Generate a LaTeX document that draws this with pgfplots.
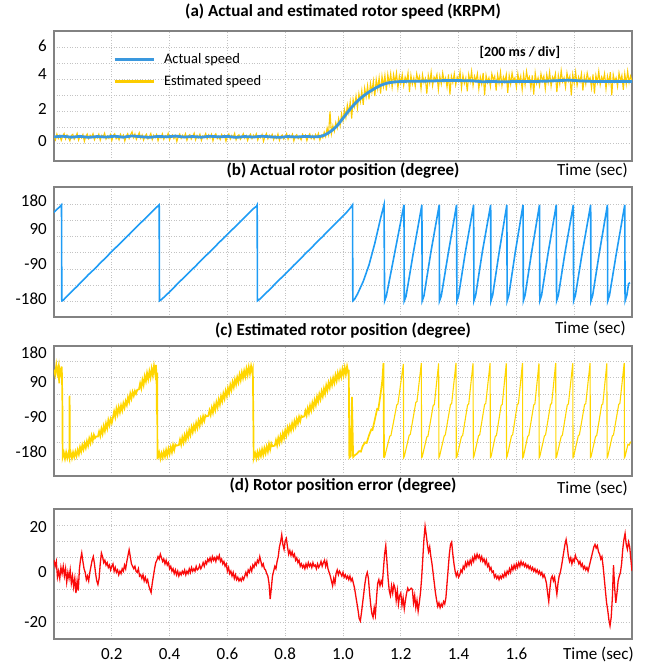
\documentclass[border=0pt]{standalone}
\usepackage{fontspec}
\setmainfont{Carlito}
\usepackage{pgfplots}
\pgfplotsset{compat=1.18}
\definecolor{framec}{RGB}{130,130,130}
\definecolor{gridc}{RGB}{195,195,195}
\definecolor{spdblue}{RGB}{58,152,222}
\definecolor{posblue}{RGB}{30,156,245}
\definecolor{spdyel}{RGB}{252,204,0}
\definecolor{posyel}{RGB}{255,214,0}
\definecolor{errred}{RGB}{250,10,10}
\newcommand{\tickfont}{\fontsize{17}{20}\selectfont}
\pgfplotsset{
 panel/.style={
  scale only axis, width=578pt, height=130pt,
  xmin=0, xmax=2,
  axis line style={draw=framec, line width=1.8pt},
  xtick={0.2,0.4,0.6,0.8,1.0,1.2,1.4,1.6,1.8},
  xticklabels={},
  xmajorgrids=true, yminorgrids=true, ymajorgrids=false,
  major grid style={gridc, line width=0.9pt, dash pattern=on 1pt off 1.6pt},
  minor grid style={gridc, line width=0.9pt, dash pattern=on 1pt off 1.6pt},
  major tick length=0pt, minor tick length=0pt,
  yticklabel style={anchor=east, inner sep=0pt, xshift=-7pt, font=\tickfont},
  xticklabel style={anchor=base, inner sep=0pt, yshift=-20.5pt, font=\tickfont},
  title style={at={(0.5,1)}, anchor=base, font=\bfseries\tickfont},
  clip mode=individual,
 }
}
\begin{document}
\begin{tikzpicture}
\useasboundingbox (0,0) rectangle (647pt,664pt);
% ---------------- (a) speed
\begin{axis}[panel, at={(54pt,503.3pt)}, anchor=south west,
  ymin=-1.09, ymax=7.04,
  ytick={0.16,2.14,4.3,6.08}, yticklabels={0,2,4,6},
  minor ytick={0,1,2,3,4,5,6},
  title={(a) Actual and estimated rotor speed (KRPM)},
  title style={yshift=8pt},
  legend style={at={(rel axis cs:0.102,0.84)}, anchor=north west, draw=none, fill=none,
    inner sep=0pt, row sep=6pt, font=\fontsize{14.5}{16}\selectfont},
  legend cell align=left,
  legend image code/.code={\draw[#1, line width=3pt] (0pt,0pt) -- (39pt,0pt); \path (46pt,0pt);},
]
\addplot[spdyel, line width=1.1pt, forget plot] coordinates {
(0.000,0.45)(0.005,0.22)(0.010,0.58)(0.015,0.30)(0.020,0.50)(0.025,0.18)(0.030,0.44)(0.035,0.61)(0.040,0.27)(0.045,0.52)
(0.050,0.35)(0.055,0.15)(0.060,0.48)(0.065,0.56)(0.070,0.25)(0.075,0.40)(0.080,0.62)(0.085,0.20)(0.090,0.47)(0.095,0.33)
(0.100,0.55)(0.105,0.12)(0.110,0.43)(0.115,0.58)(0.120,0.29)(0.125,0.50)(0.130,0.38)(0.135,0.60)(0.140,0.22)(0.145,0.46)
(0.150,0.34)(0.155,0.57)(0.160,0.19)(0.165,0.49)(0.170,0.40)(0.175,0.63)(0.180,0.26)(0.185,0.45)(0.190,0.31)(0.195,0.54)
(0.200,0.17)(0.205,0.48)(0.210,0.59)(0.215,0.28)(0.220,0.42)(0.225,0.21)(0.230,0.56)(0.235,0.36)(0.240,0.51)(0.245,0.14)
(0.250,0.44)(0.255,0.60)(0.260,0.30)(0.265,0.53)(0.270,0.72)(0.275,0.35)(0.280,0.58)(0.285,0.24)(0.290,0.47)(0.295,0.66)
(0.300,0.32)(0.305,0.52)(0.310,0.20)(0.315,0.45)(0.320,0.57)(0.325,0.27)(0.330,0.41)(0.335,0.61)(0.340,0.23)(0.345,0.50)
(0.350,0.36)(0.355,0.55)(0.360,0.16)(0.365,0.46)(0.370,0.33)(0.375,0.59)(0.380,0.25)(0.385,0.48)(0.390,0.39)(0.395,0.62)
(0.400,0.21)(0.405,0.44)(0.410,0.53)(0.415,0.29)(0.420,0.47)(0.425,0.11)(0.430,0.42)(0.435,0.58)(0.440,0.31)(0.445,0.50)
(0.450,0.37)(0.455,0.60)(0.460,0.19)(0.465,0.45)(0.470,0.54)(0.475,0.26)(0.480,0.43)(0.485,0.63)(0.490,0.22)(0.495,0.49)
(0.500,0.35)(0.505,0.57)(0.510,0.18)(0.515,0.46)(0.520,0.40)(0.525,0.61)(0.530,0.28)(0.535,0.52)(0.540,0.33)(0.545,0.56)
(0.550,0.15)(0.555,0.47)(0.560,0.59)(0.565,0.30)(0.570,0.44)(0.575,0.23)(0.580,0.55)(0.585,0.38)(0.590,0.50)(0.595,0.13)
(0.600,0.42)(0.605,0.58)(0.610,0.27)(0.615,0.49)(0.620,0.36)(0.625,0.62)(0.630,0.21)(0.635,0.46)(0.640,0.53)(0.645,0.25)
(0.650,0.41)(0.655,0.60)(0.660,0.32)(0.665,0.48)(0.670,0.17)(0.675,0.44)(0.680,0.57)(0.685,0.29)(0.690,0.51)(0.695,0.38)
(0.700,0.59)(0.705,0.20)(0.710,0.45)(0.715,0.34)(0.720,0.55)(0.725,0.12)(0.730,0.43)(0.735,0.61)(0.740,0.28)(0.745,0.50)
(0.750,0.37)(0.755,0.56)(0.760,0.22)(0.765,0.47)(0.770,0.31)(0.775,0.58)(0.780,0.18)(0.785,0.44)(0.790,0.52)(0.795,0.26)
(0.800,0.40)(0.805,0.60)(0.810,0.24)(0.815,0.49)(0.820,0.35)(0.825,0.57)(0.830,0.14)(0.835,0.45)(0.840,0.54)(0.845,0.29)
(0.850,0.42)(0.855,0.21)(0.860,0.56)(0.865,0.39)(0.870,0.51)(0.875,0.16)(0.880,0.44)(0.885,0.59)(0.890,0.30)(0.895,0.48)
(0.900,0.25)(0.905,0.55)(0.910,0.38)(0.915,0.62)(0.920,0.20)(0.925,0.50)(0.930,0.35)(0.935,0.70)(0.940,0.42)(0.945,0.95)
(0.950,0.55)(0.955,2.00)(0.960,0.60)(0.965,1.10)(0.970,0.75)(0.975,1.30)(0.980,0.95)(0.985,1.55)(0.990,1.10)(0.995,1.85)
(1.000,1.40)(1.005,2.10)(1.010,1.60)(1.015,2.40)(1.020,1.90)(1.025,2.60)(1.030,1.55)(1.035,2.75)(1.040,2.30)(1.045,2.95)
(1.050,2.20)(1.055,3.10)(1.060,2.60)(1.065,3.30)(1.070,2.40)(1.075,3.45)(1.080,2.90)(1.085,3.60)(1.090,2.75)(1.095,3.75)
(1.100,3.20)(1.105,3.90)(1.110,2.95)(1.115,4.00)(1.120,3.40)(1.125,4.10)(1.130,3.10)(1.135,4.20)(1.140,3.55)(1.145,4.25)
(1.150,3.30)(1.155,4.30)(1.160,3.70)(1.165,4.35)(1.170,3.50)(1.175,4.30)(1.180,3.80)(1.185,4.40)(1.190,3.45)(1.195,4.20)
(1.200,3.75)(1.205,4.30)(1.210,3.60)(1.215,4.15)(1.220,3.85)(1.225,4.40)(1.230,3.20)(1.235,4.25)(1.240,3.70)(1.245,4.10)
(1.250,3.55)(1.255,4.35)(1.260,3.90)(1.265,4.20)(1.270,3.40)(1.275,4.30)(1.280,3.80)(1.285,4.05)(1.290,3.10)(1.295,4.25)
(1.300,3.75)(1.305,4.45)(1.310,3.60)(1.315,4.15)(1.320,3.95)(1.325,4.30)(1.330,3.35)(1.335,4.20)(1.340,3.70)(1.345,4.40)
(1.350,3.85)(1.355,4.10)(1.360,3.50)(1.365,4.30)(1.370,3.05)(1.375,4.20)(1.380,3.80)(1.385,4.35)(1.390,3.65)(1.395,4.15)
(1.400,3.90)(1.405,4.45)(1.410,3.45)(1.415,4.25)(1.420,3.75)(1.425,4.10)(1.430,3.25)(1.435,4.30)(1.440,3.85)(1.445,4.50)
(1.450,3.60)(1.455,4.20)(1.460,3.90)(1.465,4.35)(1.470,3.40)(1.475,4.15)(1.480,3.70)(1.485,4.40)(1.490,3.00)(1.495,4.25)
(1.500,3.80)(1.505,4.10)(1.510,3.55)(1.515,4.35)(1.520,3.95)(1.525,4.20)(1.530,3.30)(1.535,4.30)(1.540,3.75)(1.545,4.45)
(1.550,3.60)(1.555,4.15)(1.560,3.85)(1.565,4.30)(1.570,3.15)(1.575,4.25)(1.580,3.70)(1.585,4.40)(1.590,3.90)(1.595,4.10)
(1.600,3.50)(1.605,4.35)(1.610,3.80)(1.615,4.20)(1.620,3.35)(1.625,4.30)(1.630,3.65)(1.635,4.50)(1.640,3.95)(1.645,4.15)
(1.650,3.45)(1.655,4.25)(1.660,3.05)(1.665,4.40)(1.670,3.75)(1.675,4.10)(1.680,3.60)(1.685,4.35)(1.690,3.90)(1.695,4.20)
(1.700,3.40)(1.705,4.30)(1.710,3.80)(1.715,4.45)(1.720,3.55)(1.725,4.15)(1.730,3.95)(1.735,4.35)(1.740,3.20)(1.745,4.25)
(1.750,3.70)(1.755,4.55)(1.760,3.85)(1.765,4.10)(1.770,3.50)(1.775,4.40)(1.780,3.90)(1.785,4.20)(1.790,3.00)(1.795,4.30)
(1.800,3.75)(1.805,4.45)(1.810,3.60)(1.815,4.15)(1.820,3.85)(1.825,4.35)(1.830,3.30)(1.835,4.20)(1.840,3.70)(1.845,4.40)
(1.850,3.95)(1.855,4.10)(1.860,3.45)(1.865,4.30)(1.870,3.10)(1.875,4.25)(1.880,3.80)(1.885,4.50)(1.890,3.65)(1.895,4.15)
(1.900,3.90)(1.905,4.35)(1.910,3.40)(1.915,4.20)(1.920,3.75)(1.925,4.45)(1.930,3.00)(1.935,4.30)(1.940,3.85)(1.945,4.10)
(1.950,3.55)(1.955,4.40)(1.960,3.90)(1.965,4.25)(1.970,3.35)(1.975,4.35)(1.980,3.70)(1.985,4.50)(1.990,3.80)(1.995,4.20)
(2.000,3.90)};
\addplot[spdblue, line width=2.8pt] coordinates {
(0,0.40)(0.03,0.44)(0.06,0.38)(0.09,0.43)(0.12,0.37)(0.15,0.42)(0.18,0.39)(0.21,0.44)(0.24,0.38)(0.27,0.46)
(0.30,0.41)(0.33,0.37)(0.36,0.43)(0.39,0.40)(0.42,0.45)(0.45,0.39)(0.48,0.42)(0.51,0.38)(0.54,0.44)(0.57,0.40)
(0.60,0.43)(0.63,0.37)(0.66,0.42)(0.69,0.39)(0.72,0.44)(0.75,0.40)(0.78,0.37)(0.81,0.42)(0.84,0.39)(0.87,0.43)
(0.90,0.40)(0.92,0.42)(0.935,0.50)(0.95,0.65)(0.965,0.85)(0.98,1.10)(0.995,1.45)(1.01,1.80)(1.025,2.15)(1.04,2.45)
(1.055,2.72)(1.07,2.95)(1.085,3.15)(1.10,3.32)(1.115,3.48)(1.13,3.62)(1.145,3.72)(1.16,3.79)(1.18,3.84)(1.21,3.87)
(1.25,3.88)(1.30,3.89)(1.35,3.92)(1.40,3.92)(1.45,3.90)(1.48,3.85)(1.52,3.86)(1.56,3.84)(1.60,3.87)(1.65,3.86)
(1.70,3.88)(1.75,3.92)(1.78,3.95)(1.82,3.90)(1.86,3.87)(1.90,3.86)(1.95,3.87)(2.00,3.86)};
\addlegendentry{Actual speed}
\addlegendimage{spdyel}
\addlegendentry{Estimated speed}
\node[anchor=center, inner sep=0pt, font=\bfseries\fontsize{14}{16}\selectfont] at (rel axis cs:0.806,0.832) {[200 ms / div]};
\node[anchor=base east, inner sep=0pt, font=\tickfont, xshift=-4pt, yshift=-15pt] at (rel axis cs:1,0) {Time (sec)};
\end{axis}
% ---------------- (b) actual position
\begin{axis}[panel, at={(54pt,346.7pt)}, anchor=south west,
  ymin=-239, ymax=243,
  ytick={-169,-42,88,192}, yticklabels={-180,-90,90,180},
  minor ytick={-180,-120,-60,0,60,120,180},
  title={(b) Actual rotor position (degree)},
  title style={yshift=5.5pt},
]
\addplot[posblue, line width=1.6pt] coordinates {
(0,150)(0.010,161)(0.020,171)(0.026,178)(0.027,-178)(0.032,-176)(0.040,-166)(0.060,-145)(0.080,-124)(0.100,-102)
(0.120,-80)(0.140,-60)(0.160,-38)(0.180,-17)(0.200,5)(0.220,26)(0.240,47)(0.260,68)(0.280,90)(0.300,111)
(0.320,132)(0.340,153)(0.355,169)(0.364,178)(0.365,-178)(0.372,-173)(0.390,-155)(0.410,-134)(0.430,-112)(0.450,-91)
(0.470,-70)(0.490,-49)(0.510,-27)(0.530,-6)(0.550,15)(0.570,37)(0.590,58)(0.610,79)(0.630,100)(0.650,121)
(0.670,143)(0.690,164)(0.700,172)(0.703,178)(0.704,-178)(0.712,-172)(0.730,-153)(0.750,-132)(0.770,-110)(0.790,-89)
(0.810,-68)(0.830,-46)(0.850,-25)(0.870,-3)(0.890,18)(0.910,40)(0.930,61)(0.950,83)(0.970,104)(0.990,126)
(1.010,147)(1.025,166)(1.033,178)(1.034,-178)(1.040,-172)(1.050,-153)(1.070,-106)(1.090,-45)(1.110,35)(1.130,128)
(1.142,178)(1.144,-178)(1.150,-160)(1.178,-5)(1.211,178)(1.212,-178)(1.218,-162)(1.243,-2)(1.273,178)(1.274,-178)
(1.280,-160)(1.304,2)(1.333,178)(1.334,-178)(1.340,-160)(1.364,-3)(1.393,178)(1.394,-178)(1.400,-158)(1.423,0)
(1.452,178)(1.453,-178)(1.459,-158)(1.482,3)(1.511,178)(1.512,-178)(1.518,-156)(1.540,0)(1.567,178)(1.568,-178)
(1.574,-156)(1.596,2)(1.623,178)(1.624,-178)(1.630,-157)(1.652,-2)(1.680,178)(1.681,-178)(1.687,-158)(1.710,1)
(1.738,178)(1.739,-178)(1.745,-158)(1.768,0)(1.797,178)(1.798,-178)(1.804,-158)(1.828,2)(1.857,178)(1.858,-178)
(1.864,-157)(1.887,0)(1.915,178)(1.916,-178)(1.922,-158)(1.946,-1)(1.975,178)(1.976,-178)(1.982,-158)(1.988,-115)
(1.993,-110)};
\node[anchor=base east, inner sep=0pt, font=\tickfont, xshift=-6pt, yshift=-16.7pt] at (rel axis cs:1,0) {Time (sec)};
\end{axis}
% ---------------- (c) estimated position
\begin{axis}[panel, at={(54pt,188.3pt)}, anchor=south west,
  ymin=-241, ymax=239,
  ytick={-153,-23,106,212}, yticklabels={-180,-90,90,180},
  minor ytick={-180,-120,-60,0,60,120,180},
  title={(c) Estimated rotor position (degree)},
  title style={yshift=4.5pt},
]
\addplot[posyel, line width=1.7pt] coordinates {
(0.000,150)(0.004,132)(0.008,168)(0.012,138)(0.016,162)(0.018,100)(0.020,152)(0.024,135)(0.027,162)(0.029,30)
(0.030,-172)(0.034,-156)(0.038,-178)(0.042,-155)(0.046,-176)(0.050,-158)(0.053,-172)(0.054,55)(0.055,-168)(0.058,-156)
(0.062,-176)(0.066,-155)(0.070,-172)(0.074,-152)(0.078,-168)(0.082,-146)(0.086,-162)(0.090,-136)(0.094,-152)(0.098,-128)
(0.102,-144)(0.106,-122)(0.110,-138)(0.114,-114)(0.118,-130)(0.122,-104)(0.126,-120)(0.130,-94)(0.134,-112)(0.138,-90)
(0.142,-102)(0.146,-96)(0.152,-96)(0.156,-78)(0.160,-94)(0.164,-68)(0.168,-86)(0.172,-58)(0.176,-76)(0.180,-48)
(0.184,-66)(0.188,-36)(0.192,-54)(0.196,-32)(0.200,-46)(0.204,-26)(0.208,-4)(0.212,-24)(0.216,6)(0.220,-14)
(0.224,12)(0.228,-7)(0.232,18)(0.236,0)(0.240,26)(0.244,10)(0.248,34)(0.252,20)(0.256,48)(0.260,32)
(0.264,62)(0.268,44)(0.272,68)(0.276,54)(0.280,72)(0.284,62)(0.288,76)(0.294,78)(0.298,100)(0.302,82)
(0.306,112)(0.310,94)(0.314,126)(0.318,108)(0.322,138)(0.326,116)(0.330,144)(0.334,122)(0.338,154)(0.342,130)
(0.346,164)(0.350,136)(0.353,168)(0.355,100)(0.356,-15)(0.357,140)(0.358,-176)
(0.360,-174)(0.364,-156)(0.368,-178)(0.372,-158)(0.376,-174)(0.380,-152)(0.384,-170)(0.388,-146)(0.392,-166)(0.396,-142)
(0.400,-160)(0.404,-136)(0.408,-154)(0.412,-128)(0.416,-146)(0.420,-126)(0.424,-130)(0.432,-128)(0.436,-108)(0.440,-126)
(0.444,-100)(0.448,-118)(0.452,-92)(0.456,-110)(0.460,-82)(0.464,-100)(0.468,-72)(0.472,-90)(0.476,-62)(0.480,-80)
(0.484,-56)(0.488,-72)(0.492,-46)(0.496,-64)(0.500,-38)(0.504,-56)(0.508,-30)(0.512,-46)(0.516,-22)(0.520,-38)
(0.524,-18)(0.528,-22)(0.534,-20)(0.538,0)(0.542,-16)(0.546,10)(0.550,-8)(0.554,20)(0.558,2)(0.562,30)
(0.566,12)(0.570,40)(0.574,22)(0.578,52)(0.582,34)(0.586,62)(0.590,44)(0.594,72)(0.598,54)(0.602,82)
(0.606,64)(0.610,94)(0.614,76)(0.618,104)(0.622,86)(0.626,114)(0.630,96)(0.634,122)(0.638,104)(0.642,132)
(0.646,112)(0.650,140)(0.654,120)(0.658,146)(0.662,126)(0.666,154)(0.670,132)(0.674,160)(0.678,136)(0.682,164)
(0.686,140)(0.688,150)(0.690,-60)(0.691,-176)
(0.692,-172)(0.696,-158)(0.700,-177)(0.704,-154)(0.708,-172)(0.712,-150)(0.716,-168)(0.720,-144)(0.724,-164)(0.728,-140)
(0.732,-158)(0.736,-134)(0.740,-152)(0.744,-124)(0.748,-144)(0.752,-122)(0.756,-132)(0.764,-130)(0.768,-110)(0.772,-128)
(0.776,-102)(0.780,-120)(0.784,-94)(0.788,-112)(0.792,-84)(0.796,-102)(0.800,-74)(0.804,-92)(0.808,-64)(0.812,-82)
(0.816,-58)(0.820,-74)(0.824,-48)(0.828,-66)(0.832,-40)(0.836,-58)(0.840,-32)(0.844,-48)(0.848,-24)(0.852,-40)
(0.856,-20)(0.860,-24)(0.866,-22)(0.870,-2)(0.874,-18)(0.878,8)(0.882,-10)(0.886,18)(0.890,0)(0.894,28)
(0.898,10)(0.902,38)(0.906,20)(0.910,50)(0.914,32)(0.918,60)(0.922,42)(0.926,70)(0.930,52)(0.934,80)
(0.938,62)(0.942,92)(0.946,74)(0.950,102)(0.954,84)(0.958,112)(0.962,94)(0.966,120)(0.970,102)(0.974,130)
(0.978,110)(0.982,138)(0.986,118)(0.990,144)(0.994,124)(0.998,152)(1.002,130)(1.006,158)(1.010,134)(1.014,162)
(1.018,138)(1.020,150)(1.022,-174)(1.027,-168)(1.031,50)(1.035,-172)(1.040,-166)(1.048,-160)(1.056,-150)(1.062,-152)
(1.068,-132)(1.076,-118)(1.082,-120)(1.090,-92)(1.098,-70)(1.102,-72)(1.110,-35)(1.118,5)(1.122,3)(1.130,60)
(1.136,110)(1.140,175)(1.142,-174)};
\addplot[posyel, line width=1.1pt] coordinates {
(1.142,-174)
(1.144,-172)(1.162,-95)(1.166,-92)(1.186,20)(1.190,24)(1.209,172)(1.210,-174)
(1.212,-170)(1.229,-92)(1.233,-88)(1.252,30)(1.256,33)(1.271,175)(1.272,-174)
(1.274,-172)(1.290,-98)(1.294,-95)(1.312,18)(1.316,22)(1.331,174)(1.332,-174)
(1.334,-170)(1.350,-95)(1.354,-90)(1.372,22)(1.376,25)(1.391,175)(1.392,-174)
(1.394,-172)(1.410,-96)(1.414,-93)(1.431,20)(1.435,24)(1.450,174)(1.451,-174)
(1.453,-170)(1.469,-94)(1.473,-90)(1.490,22)(1.494,26)(1.509,175)(1.510,-174)
(1.512,-172)(1.527,-96)(1.531,-92)(1.547,18)(1.551,22)(1.565,174)(1.566,-174)
(1.568,-170)(1.583,-94)(1.587,-90)(1.603,22)(1.607,25)(1.621,175)(1.622,-174)
(1.624,-172)(1.639,-96)(1.643,-92)(1.660,20)(1.664,24)(1.678,174)(1.679,-174)
(1.681,-170)(1.697,-94)(1.701,-90)(1.718,22)(1.722,26)(1.736,175)(1.737,-174)
(1.739,-172)(1.755,-96)(1.759,-92)(1.776,20)(1.780,24)(1.795,174)(1.796,-174)
(1.798,-170)(1.814,-94)(1.818,-90)(1.836,22)(1.840,25)(1.855,175)(1.856,-174)
(1.858,-172)(1.874,-96)(1.878,-92)(1.895,20)(1.899,24)(1.913,174)(1.914,-174)
(1.916,-170)(1.932,-94)(1.936,-90)(1.954,22)(1.958,26)(1.973,175)(1.974,-174)
(1.976,-170)(1.986,-125)(1.990,-128)(1.996,-115)};
\node[anchor=base east, inner sep=0pt, font=\tickfont, xshift=-4pt, yshift=-18pt] at (rel axis cs:1,0) {Time (sec)};
\end{axis}
% ---------------- (d) position error
\begin{axis}[panel, at={(54pt,25pt)}, anchor=south west,
  ymin=-26.9, ymax=26.6,
  ytick={-19.8,0.6,19.3}, yticklabels={-20,0,20},
  minor ytick={-20,-13.333,-6.667,0,6.667,13.333,20},
  xticklabels={0.2,0.4,0.6,0.8,1.0,1.2,1.4,1.6,{}},
  title={(d) Rotor position error (degree)},
  title style={yshift=12pt},
]
\addplot[errred, line width=1.3pt] coordinates {
(0.000,5.5)(0.004,3.0)(0.008,5.0)(0.012,-1.5)(0.016,1.0)(0.020,-2.0)(0.024,2.5)(0.028,0.0)(0.032,3.0)(0.036,-1.0)
(0.040,2.0)(0.044,-3.5)(0.048,0.5)(0.052,-2.0)(0.056,1.5)(0.060,-4.0)(0.064,-1.0)(0.068,-5.5)(0.072,-2.0)(0.076,-8.0)
(0.080,-3.0)(0.084,-7.0)(0.088,2.0)(0.092,6.0)(0.096,8.5)(0.100,5.0)(0.104,2.0)(0.108,0.5)(0.112,-2.5)(0.116,-1.0)
(0.120,-3.0)(0.124,0.5)(0.128,3.0)(0.132,5.5)(0.136,7.0)(0.140,4.0)(0.144,0.0)(0.148,-3.0)(0.152,-4.5)(0.156,-2.0)
(0.160,4.0)(0.164,8.5)(0.168,7.0)(0.172,4.5)(0.176,5.5)(0.180,3.5)(0.184,4.5)(0.188,2.5)(0.192,3.5)(0.196,1.5)
(0.200,3.0)(0.204,4.0)(0.208,1.0)(0.212,2.5)(0.216,0.5)(0.220,1.5)(0.224,-0.5)(0.228,1.0)(0.232,0.0)(0.236,2.0)
(0.240,1.0)(0.244,3.5)(0.248,2.0)(0.252,5.0)(0.256,7.5)(0.260,9.8)(0.264,7.0)(0.268,4.0)(0.272,3.0)(0.276,2.0)
(0.280,3.0)(0.284,1.0)(0.288,0.5)(0.292,2.0)(0.296,-1.0)(0.300,-0.5)(0.304,-2.0)(0.308,-0.5)(0.312,-3.0)(0.316,-1.5)
(0.320,-3.5)(0.324,-2.5)(0.328,-5.0)(0.332,-6.5)(0.336,-7.8)(0.340,-4.0)(0.344,-1.0)(0.348,2.0)(0.352,4.5)(0.356,5.5)
(0.360,7.0)(0.364,6.0)(0.368,8.0)(0.372,6.5)(0.376,5.0)(0.380,6.0)(0.384,4.0)(0.388,5.5)(0.392,3.5)(0.396,4.5)
(0.400,2.0)(0.404,3.0)(0.408,1.0)(0.412,2.0)(0.416,0.0)(0.420,1.5)(0.424,-0.5)(0.428,1.0)(0.432,-1.0)(0.436,0.5)
(0.440,-0.5)(0.444,1.0)(0.448,0.0)(0.452,1.5)(0.456,-0.5)(0.460,1.0)(0.464,0.0)(0.468,2.0)(0.472,0.5)(0.476,2.5)
(0.480,1.0)(0.484,2.0)(0.488,1.0)(0.492,3.0)(0.496,1.5)(0.500,2.0)(0.504,3.5)(0.508,2.0)(0.512,3.0)(0.516,4.5)
(0.520,3.0)(0.524,5.0)(0.528,4.0)(0.532,6.0)(0.536,5.0)(0.540,6.5)(0.544,5.0)(0.548,7.0)(0.552,5.5)(0.556,6.5)
(0.560,5.0)(0.564,7.0)(0.568,6.0)(0.572,7.5)(0.576,5.0)(0.580,6.0)(0.584,4.0)(0.588,5.0)(0.592,3.0)(0.596,4.0)
(0.600,1.0)(0.604,2.5)(0.608,0.0)(0.612,1.0)(0.616,-1.0)(0.620,0.5)(0.624,-2.0)(0.628,-0.5)(0.632,-2.5)(0.636,-1.5)
(0.640,-3.0)(0.644,-2.0)(0.648,-3.0)(0.652,-1.5)(0.656,-2.5)(0.660,-1.0)(0.664,0.5)(0.668,-1.0)(0.672,1.5)(0.676,0.5)
(0.680,2.5)(0.684,1.0)(0.688,3.5)(0.692,2.5)(0.696,4.5)(0.700,3.5)(0.704,5.5)(0.708,4.5)(0.712,7.0)(0.716,5.0)
(0.720,3.0)(0.724,4.0)(0.728,2.0)(0.732,1.5)(0.736,0.0)(0.740,-1.0)(0.744,-4.0)(0.748,-10.5)(0.752,-6.0)(0.756,-1.0)
(0.760,1.0)(0.764,3.0)(0.768,2.0)(0.772,5.0)(0.776,7.0)(0.780,11.0)(0.784,13.0)(0.788,16.0)(0.792,12.0)(0.796,10.0)
(0.800,13.5)(0.804,14.5)(0.808,11.0)(0.812,8.0)(0.816,9.5)(0.820,7.5)(0.824,9.0)(0.828,7.0)(0.832,8.0)(0.836,5.5)
(0.840,6.5)(0.844,4.5)(0.848,5.5)(0.852,3.0)(0.856,4.0)(0.860,2.5)(0.864,3.5)(0.868,2.0)(0.872,4.0)(0.876,2.5)
(0.880,4.5)(0.884,3.0)(0.888,4.0)(0.892,2.5)(0.896,4.5)(0.900,3.0)(0.904,3.5)(0.908,2.0)(0.912,4.0)(0.916,2.5)
(0.920,3.5)(0.924,5.0)(0.928,3.0)(0.932,4.5)(0.936,5.5)(0.940,3.0)(0.944,5.0)(0.948,2.0)(0.952,0.5)(0.956,-1.0)
(0.960,-3.0)(0.964,-5.0)(0.968,-2.0)(0.972,-4.0)(0.976,0.0)(0.980,1.5)(0.984,-0.5)(0.988,1.0)(0.992,0.0)(0.996,-1.0)
(1.000,0.5)(1.004,-1.5)(1.008,-0.5)(1.012,-2.0)(1.016,-1.0)(1.020,-2.5)(1.024,-1.0)(1.028,-3.0)(1.032,-2.0)(1.036,-4.0)
(1.040,-6.0)(1.044,-9.0)(1.048,-12.0)(1.052,-15.0)(1.056,-18.5)(1.060,-19.5)(1.064,-16.0)(1.068,-12.0)(1.072,-8.0)(1.076,-4.0)
(1.080,-1.0)(1.084,0.5)(1.088,-2.0)(1.092,-8.0)(1.096,-13.0)(1.100,-16.5)(1.104,-18.0)(1.108,-14.0)(1.112,-17.0)(1.116,-10.0)
(1.120,-4.0)(1.124,-2.5)(1.128,-5.0)(1.132,-3.0)(1.136,-4.5)(1.140,2.0)(1.144,8.0)(1.148,11.5)(1.152,5.0)(1.156,-2.0)
(1.160,-7.0)(1.164,-9.0)(1.168,-5.0)(1.172,-8.0)(1.176,-4.5)(1.180,-6.0)(1.184,-11.0)(1.188,-7.0)(1.192,-12.5)(1.196,-9.0)
(1.200,-8.0)(1.204,-13.0)(1.208,-10.0)(1.212,-14.5)(1.216,-11.0)(1.220,-8.0)(1.224,-6.0)(1.228,-7.0)(1.232,-6.5)(1.236,-6.0)
(1.240,-6.5)(1.244,-12.0)(1.248,-9.0)(1.252,-14.0)(1.256,-11.0)(1.260,-15.5)(1.264,-12.0)(1.268,-8.0)(1.272,-2.0)(1.276,6.0)
(1.280,14.0)(1.284,19.5)(1.288,16.0)(1.292,12.0)(1.296,9.0)(1.300,11.0)(1.304,7.0)(1.308,4.0)(1.312,0.0)(1.316,-4.0)
(1.320,-8.0)(1.324,-11.0)(1.328,-13.5)(1.332,-12.0)(1.336,-14.0)(1.340,-12.5)(1.344,-13.5)(1.348,-11.5)(1.352,-12.5)(1.356,-10.0)
(1.360,-4.0)(1.364,2.0)(1.368,8.0)(1.372,12.0)(1.376,13.0)(1.380,8.0)(1.384,4.0)(1.388,1.0)(1.392,-1.0)(1.396,0.5)
(1.400,-1.5)(1.404,-0.5)(1.408,1.5)(1.412,0.5)(1.416,3.0)(1.420,2.0)(1.424,4.5)(1.428,3.0)(1.432,5.0)(1.436,3.5)
(1.440,5.5)(1.444,4.0)(1.448,6.5)(1.452,5.0)(1.456,7.5)(1.460,6.0)(1.464,8.0)(1.468,6.5)(1.472,7.5)(1.476,5.5)
(1.480,7.0)(1.484,5.0)(1.488,6.0)(1.492,4.0)(1.496,5.5)(1.500,3.0)(1.504,4.0)(1.508,1.5)(1.512,2.5)(1.516,0.5)
(1.520,1.0)(1.524,-1.5)(1.528,-0.5)(1.532,-2.0)(1.536,-1.0)(1.540,-2.5)(1.544,-1.0)(1.548,-2.0)(1.552,-0.5)(1.556,-1.5)
(1.560,0.5)(1.564,-1.0)(1.568,1.0)(1.572,0.0)(1.576,2.0)(1.580,0.5)(1.584,3.0)(1.588,1.5)(1.592,3.5)(1.596,2.0)
(1.600,4.0)(1.604,2.5)(1.608,4.5)(1.612,3.0)(1.616,5.0)(1.620,3.5)(1.624,4.5)(1.628,3.0)(1.632,4.0)(1.636,2.5)
(1.640,3.5)(1.644,2.0)(1.648,3.0)(1.652,1.5)(1.656,2.5)(1.660,1.0)(1.664,2.0)(1.668,0.5)(1.672,1.5)(1.676,0.0)
(1.680,1.0)(1.684,-0.5)(1.688,0.5)(1.692,-1.5)(1.696,-0.5)(1.700,-2.0)(1.704,-4.0)(1.708,-8.0)(1.712,-11.5)(1.716,-6.0)
(1.720,-2.0)(1.724,-1.0)(1.728,-3.0)(1.732,-1.5)(1.736,-5.0)(1.740,-8.5)(1.744,-4.0)(1.748,-1.0)(1.752,0.5)(1.756,3.0)
(1.760,6.0)(1.764,9.0)(1.768,12.0)(1.772,14.0)(1.776,11.0)(1.780,7.0)(1.784,5.0)(1.788,6.5)(1.792,4.0)(1.796,6.0)
(1.800,5.0)(1.804,7.5)(1.808,6.0)(1.812,5.5)(1.816,4.0)(1.820,5.0)(1.824,3.0)(1.828,4.0)(1.832,2.0)(1.836,3.0)
(1.840,1.5)(1.844,2.5)(1.848,1.0)(1.852,3.0)(1.856,5.0)(1.860,7.0)(1.864,9.0)(1.868,11.0)(1.872,12.0)(1.876,10.5)
(1.880,11.5)(1.884,9.0)(1.888,8.0)(1.892,6.0)(1.896,7.0)(1.900,3.0)(1.904,-2.0)(1.908,-7.0)(1.912,-12.0)(1.916,-15.0)
(1.920,-19.0)(1.924,-21.5)(1.928,-18.0)(1.932,-10.0)(1.936,3.5)(1.940,-6.0)(1.944,-12.0)(1.948,-8.0)(1.952,-3.0)(1.956,-1.0)
(1.960,0.5)(1.964,4.0)(1.968,10.0)(1.972,14.0)(1.976,16.5)(1.980,12.0)(1.984,10.0)(1.988,13.0)(1.992,11.0)(1.996,6.0)
(2.000,1.0)};
\node[anchor=base east, inner sep=0pt, font=\tickfont, xshift=2pt, yshift=-20.5pt] at (rel axis cs:1,0) {Time (sec)};
\end{axis}
\end{tikzpicture}
\end{document}
